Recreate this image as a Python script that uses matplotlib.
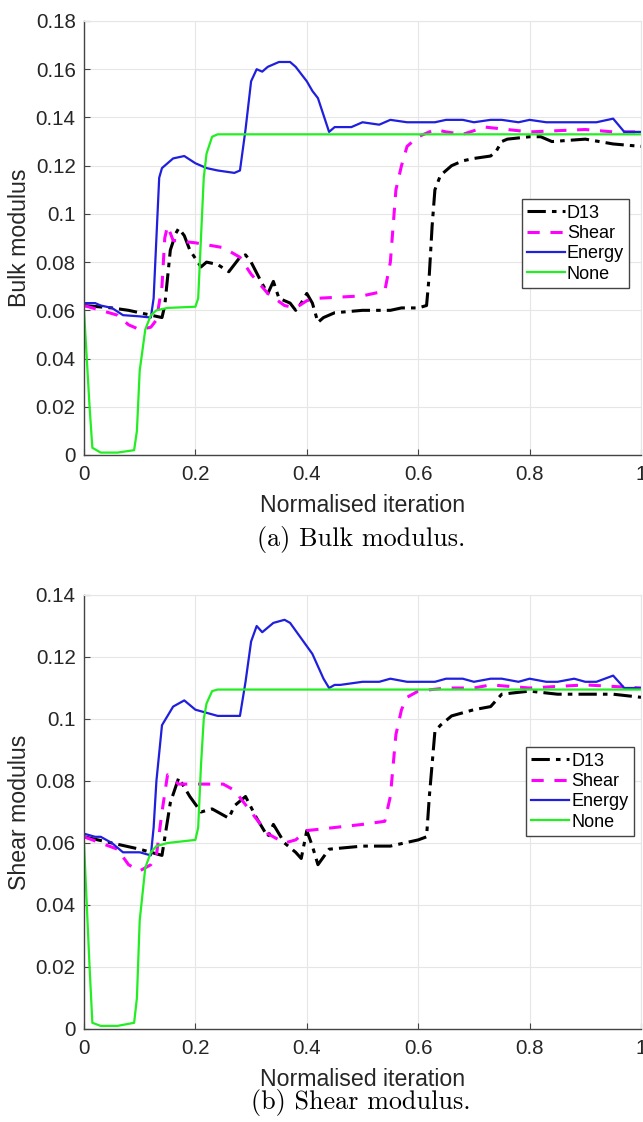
import matplotlib
matplotlib.use("Agg")
import matplotlib.pyplot as plt
import numpy as np

# ---------------- Bulk modulus (a) ----------------
bulk_energy_x = [0, 0.02, 0.03, 0.05, 0.07, 0.10, 0.12, 0.125, 0.13, 0.135, 0.14, 0.16, 0.18, 0.20, 0.22, 0.24, 0.27, 0.28,
                 0.29, 0.30, 0.31, 0.32, 0.33, 0.35, 0.37, 0.38, 0.40, 0.41, 0.42, 0.43, 0.44, 0.45, 0.46, 0.48,
                 0.50, 0.53, 0.55, 0.58, 0.60, 0.63, 0.65, 0.68, 0.70, 0.73, 0.75, 0.78, 0.80, 0.83, 0.85, 0.88,
                 0.90, 0.92, 0.95, 0.97, 1.0]
bulk_energy_y = [0.063, 0.063, 0.062, 0.061, 0.058, 0.0575, 0.057, 0.065, 0.090, 0.115, 0.119, 0.123, 0.124, 0.121, 0.119, 0.118, 0.117, 0.118,
                 0.135, 0.155, 0.160, 0.159, 0.161, 0.163, 0.163, 0.161, 0.155, 0.151, 0.148, 0.141, 0.134, 0.136, 0.136, 0.136,
                 0.138, 0.137, 0.139, 0.138, 0.138, 0.138, 0.139, 0.139, 0.138, 0.139, 0.139, 0.138, 0.139, 0.138, 0.138, 0.138,
                 0.138, 0.138, 0.1395, 0.134, 0.134]

bulk_none_x = [0, 0.01, 0.015, 0.03, 0.06, 0.09, 0.095, 0.10, 0.11, 0.12, 0.13, 0.15, 0.20, 0.205, 0.21, 0.215, 0.22, 0.23, 0.24, 1.0]
bulk_none_y = [0.060, 0.020, 0.003, 0.001, 0.001, 0.002, 0.010, 0.035, 0.052, 0.058, 0.060, 0.061, 0.0615, 0.065, 0.090, 0.115, 0.125, 0.132, 0.133, 0.133]

bulk_shear_x = [0, 0.03, 0.06, 0.08, 0.10, 0.12, 0.13, 0.14, 0.145, 0.15, 0.16, 0.20, 0.25, 0.28, 0.30, 0.33, 0.36, 0.38,
                0.40, 0.42, 0.50, 0.54, 0.55, 0.56, 0.57, 0.58, 0.60, 0.63, 0.65, 0.68, 0.72, 0.80, 0.90, 0.95, 1.0]
bulk_shear_y = [0.062, 0.060, 0.058, 0.054, 0.052, 0.053, 0.056, 0.070, 0.090, 0.095, 0.089, 0.088, 0.086, 0.082, 0.075, 0.067, 0.062, 0.061,
                0.064, 0.065, 0.066, 0.068, 0.080, 0.110, 0.120, 0.128, 0.132, 0.135, 0.134, 0.133, 0.136, 0.134, 0.135, 0.134, 0.134]

bulk_d13_x = [0, 0.05, 0.08, 0.10, 0.12, 0.14, 0.145, 0.155, 0.165, 0.17, 0.18, 0.19, 0.21, 0.22, 0.24, 0.26, 0.27, 0.28,
              0.29, 0.30, 0.32, 0.33, 0.34, 0.35, 0.36, 0.37, 0.38, 0.39, 0.40, 0.41, 0.42, 0.43, 0.45, 0.50,
              0.55, 0.57, 0.60, 0.615, 0.62, 0.625, 0.63, 0.64, 0.66, 0.68, 0.70, 0.73, 0.74, 0.75, 0.76, 0.80,
              0.82, 0.84, 0.90, 0.95, 1.0]
bulk_d13_y = [0.062, 0.061, 0.060, 0.059, 0.058, 0.057, 0.062, 0.085, 0.092, 0.094, 0.091, 0.085, 0.078, 0.080, 0.079, 0.076, 0.079, 0.082,
              0.083, 0.080, 0.071, 0.067, 0.072, 0.065, 0.064, 0.063, 0.060, 0.063, 0.067, 0.063, 0.055, 0.057, 0.059, 0.060,
              0.060, 0.061, 0.061, 0.062, 0.075, 0.095, 0.110, 0.116, 0.120, 0.122, 0.123, 0.124, 0.126, 0.130, 0.131, 0.132,
              0.132, 0.130, 0.131, 0.129, 0.128]

# ---------------- Shear modulus (b) ----------------
shear_energy_x = [0, 0.02, 0.03, 0.05, 0.07, 0.10, 0.12, 0.125, 0.13, 0.14, 0.16, 0.18, 0.20, 0.24, 0.28,
                  0.29, 0.30, 0.31, 0.32, 0.34, 0.36, 0.37, 0.39, 0.41, 0.43, 0.44, 0.45, 0.46, 0.50, 0.53, 0.55,
                  0.58, 0.60, 0.63, 0.65, 0.68, 0.70, 0.73, 0.75, 0.78, 0.80, 0.83, 0.85, 0.88, 0.90, 0.92, 0.95, 0.97, 1.0]
shear_energy_y = [0.063, 0.062, 0.062, 0.060, 0.057, 0.057, 0.056, 0.065, 0.080, 0.098, 0.104, 0.106, 0.103, 0.101, 0.101,
                  0.112, 0.125, 0.130, 0.128, 0.131, 0.132, 0.131, 0.126, 0.121, 0.113, 0.110, 0.111, 0.111, 0.112, 0.112, 0.113,
                  0.112, 0.112, 0.112, 0.113, 0.113, 0.112, 0.113, 0.113, 0.112, 0.113, 0.112, 0.112, 0.113, 0.112, 0.112, 0.114, 0.110, 0.110]

shear_none_x = [0, 0.01, 0.015, 0.03, 0.06, 0.09, 0.095, 0.10, 0.11, 0.12, 0.13, 0.15, 0.20, 0.205, 0.21, 0.215, 0.22, 0.23, 0.24, 1.0]
shear_none_y = [0.060, 0.020, 0.002, 0.001, 0.001, 0.002, 0.010, 0.035, 0.052, 0.057, 0.059, 0.060, 0.061, 0.065, 0.085, 0.100, 0.105, 0.109, 0.1095, 0.1095]

shear_shear_x = [0, 0.03, 0.06, 0.08, 0.10, 0.12, 0.13, 0.14, 0.15, 0.17, 0.25, 0.27, 0.30, 0.33, 0.36, 0.38,
                 0.40, 0.45, 0.50, 0.54, 0.55, 0.56, 0.57, 0.58, 0.60, 0.65, 0.70, 0.73, 0.80, 0.90, 1.0]
shear_shear_y = [0.062, 0.060, 0.058, 0.053, 0.051, 0.053, 0.056, 0.070, 0.082, 0.079, 0.079, 0.077, 0.070, 0.063, 0.060, 0.061,
                 0.064, 0.065, 0.066, 0.067, 0.075, 0.095, 0.103, 0.107, 0.109, 0.110, 0.110, 0.111, 0.110, 0.111, 0.110]

shear_d13_x = [0, 0.05, 0.10, 0.14, 0.155, 0.17, 0.19, 0.21, 0.23, 0.26, 0.27, 0.29, 0.31, 0.33, 0.34, 0.36,
               0.38, 0.39, 0.40, 0.41, 0.42, 0.44, 0.50, 0.55, 0.60, 0.615, 0.62, 0.63, 0.64, 0.66, 0.70, 0.73,
               0.75, 0.80, 0.85, 0.90, 0.95, 1.0]
shear_d13_y = [0.062, 0.060, 0.058, 0.056, 0.073, 0.081, 0.075, 0.070, 0.071, 0.068, 0.072, 0.075, 0.068, 0.062, 0.066, 0.060,
               0.057, 0.055, 0.064, 0.059, 0.053, 0.058, 0.059, 0.059, 0.061, 0.062, 0.075, 0.096, 0.098, 0.101, 0.103, 0.104,
               0.108, 0.109, 0.108, 0.108, 0.108, 0.107]

labels = ["D13", "Shear", "Energy", "None"]
ylabels = ["Bulk modulus", "Shear modulus"]
captions = ["(a) Bulk modulus.", "(b) Shear modulus."]
xlabel = "Normalised iteration"

plt.rcParams['font.family'] = ['Liberation Sans', 'DejaVu Sans']

fig = plt.figure(figsize=(6.43, 11.22), dpi=100)
W, H = 643, 1122

def axes_px(x0, x1, ytop, ybot):
    return fig.add_axes([x0 / W, 1 - ybot / H, (x1 - x0) / W, (ybot - ytop) / H])

ax1 = axes_px(84, 641, 21, 455)
ax2 = axes_px(84, 641, 595, 1029)

datasets = [
    (ax1, (bulk_d13_x, bulk_d13_y), (bulk_shear_x, bulk_shear_y), (bulk_energy_x, bulk_energy_y), (bulk_none_x, bulk_none_y),
     0.18, np.arange(0, 0.181, 0.02), (0.979, 0.589), 434),
    (ax2, (shear_d13_x, shear_d13_y), (shear_shear_x, shear_shear_y), (shear_energy_x, shear_energy_y), (shear_none_x, shear_none_y),
     0.14, np.arange(0, 0.141, 0.02), (0.987, 0.649), 434),
]

def fmt(v):
    if abs(v) < 1e-12:
        return "0"
    s = "%.2f" % v
    s = s.rstrip("0").rstrip(".")
    return s

for i, (ax, d13, sh, en, no, ymax, yt, legpos, hpx) in enumerate(datasets):
    ax.plot(d13[0], d13[1], color="black", lw=2.2, dashes=(6, 2, 1.5, 2), label=labels[0])
    ax.plot(sh[0], sh[1], color="#ff00ff", lw=2.2, dashes=(4, 3.5), label=labels[1])
    ax.plot(en[0], en[1], color="#1f1fdd", lw=1.6, label=labels[2])
    ax.plot(no[0], no[1], color="#22ee22", lw=1.6, label=labels[3])
    ax.set_xlim(0, 1)
    ax.set_ylim(0, ymax)
    ax.set_xticks(np.arange(0, 1.01, 0.2))
    ax.set_xticklabels([fmt(v) for v in np.arange(0, 1.01, 0.2)])
    ax.set_yticks(yt)
    ax.set_yticklabels([fmt(v) for v in yt])
    ax.grid(True, color="#e6e6e6", lw=0.8)
    ax.set_axisbelow(True)
    for s in ["top", "right"]:
        ax.spines[s].set_color("#e6e6e6")
        ax.spines[s].set_linewidth(0.8)
    for s in ["left", "bottom"]:
        ax.spines[s].set_color("#444444")
        ax.spines[s].set_linewidth(1.0)
    ax.tick_params(direction="in", length=4, width=0.8, color="#444444", labelsize=14.8,
                   labelcolor="#262626", top=False, right=False)
    ax.tick_params(axis="x", pad=7.5)
    ax.tick_params(axis="y", pad=6)
    ax.set_xlabel(xlabel, fontsize=16.7, color="#262626")
    ax.xaxis.set_label_coords(0.5, -50 / hpx)
    ax.xaxis.label.set_va("center")
    ax.set_ylabel(ylabels[i], fontsize=16.7, color="#262626")
    ax.yaxis.set_label_coords(-64 / 557, 0.5)
    ax.yaxis.label.set_va("center")
    leg = ax.legend(loc="upper right", bbox_to_anchor=legpos, fontsize=13,
                    handlelength=2.1, handletextpad=0.1, borderpad=0.3, labelspacing=0.18,
                    fancybox=False, framealpha=1, edgecolor="#444444", borderaxespad=0)
    leg.get_frame().set_linewidth(1.0)

fig.text(361 / W, 1 - 539 / H, captions[0], ha="center", va="center", fontsize=18.8, family="cmr10")
fig.text(361 / W, 1 - 1103 / H, captions[1], ha="center", va="center", fontsize=18.8, family="cmr10")

fig.savefig("out.png", dpi=100)
